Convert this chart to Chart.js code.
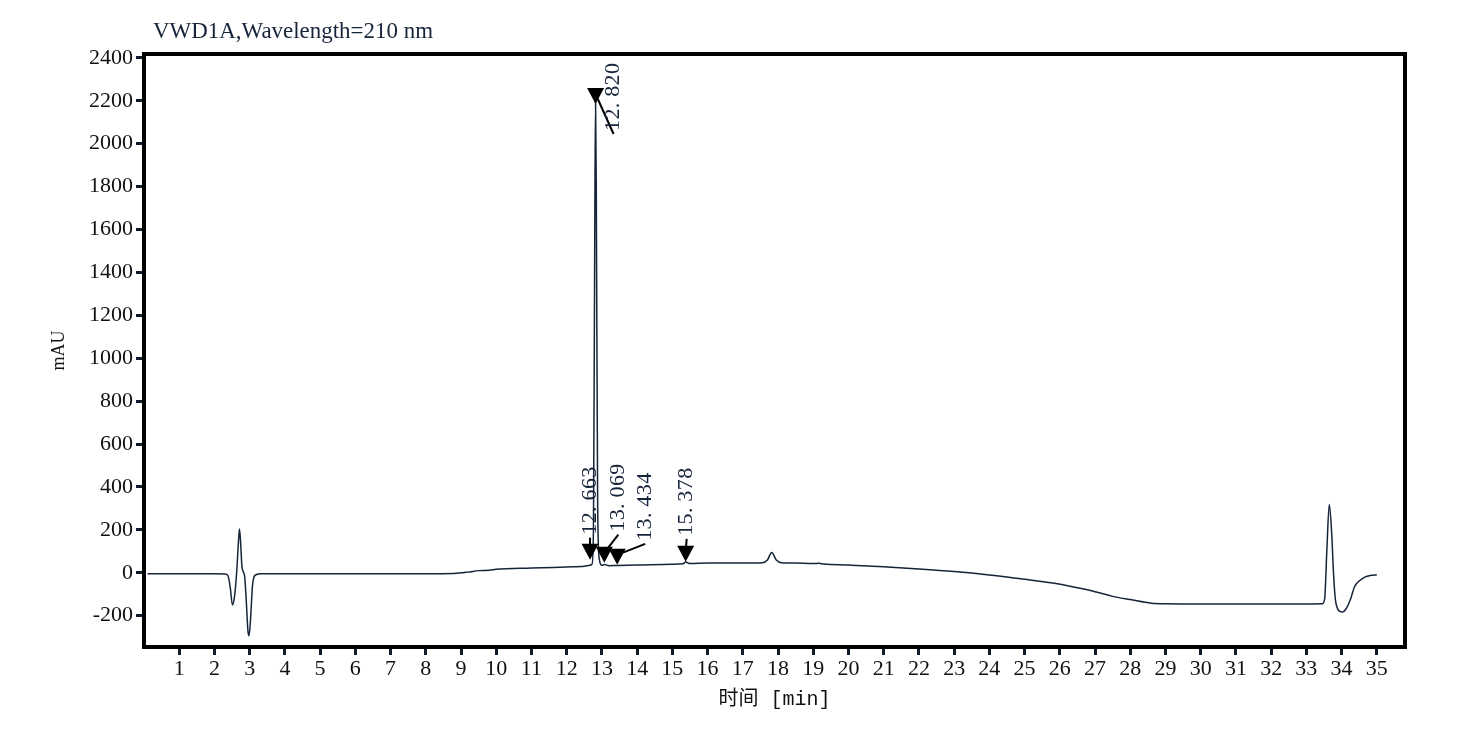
<!DOCTYPE html>
<html>
<head>
<meta charset="utf-8">
<title>VWD1A chromatogram</title>
<script src="https://cdn.jsdelivr.net/npm/chart.js@4.4.1/dist/chart.umd.min.js"></script>
<style>
  html, body { margin: 0; padding: 0; background: #fff; }
  #wrap { width: 1482px; height: 735px; }
</style>
</head>
<body>
<div id="wrap"><canvas id="chrom" width="1482" height="735"></canvas></div>
<script>
// signal trace (time in min, signal in mAU)
const times = [0.1, 1, 2, 2.3, 2.38, 2.45, 2.51, 2.57, 2.63, 2.68, 2.71, 2.74, 2.78, 2.82, 2.86,
  2.91, 2.95, 2.98, 3.02, 3.08, 3.15, 3.3, 4, 5, 6, 7, 8, 8.8, 9.2, 9.5, 9.8, 10, 11, 12, 12.5,
  12.66, 12.72, 12.76, 12.8, 12.82, 12.84, 12.88, 12.93, 13.0, 13.07, 13.2, 13.43, 14, 15, 15.3,
  15.38, 15.5, 16, 17, 17.55, 17.7, 17.82, 17.95, 18.1, 18.5, 19, 19.16, 19.3, 20, 21, 22, 23, 24,
  25, 25.8, 26.5, 27, 27.5, 28, 28.6, 29, 30, 31, 32, 33, 33.45, 33.52, 33.58, 33.65, 33.72, 33.77,
  33.82, 33.88, 33.95, 34.03, 34.12, 34.25, 34.37, 34.5, 34.66, 34.85, 35.0];
const mAU = [-5, -5, -5, -6, -12, -70, -150, -110, 0, 140, 204, 150, 30, 5, -20,
  -150, -270, -294, -230, -60, -12, -4, -5, -5, -5, -4, -4, -3, 3, 10, 12, 16, 22, 27, 30,
  35, 40, 200, 1700, 2195, 1800, 300, 60, 35, 38, 33, 34, 36, 40, 42,
  50, 43, 45, 45, 47, 60, 95, 60, 47, 45, 43, 44, 41, 36, 28, 18, 6, -10,
  -30, -48, -70, -88, -110, -125, -142, -144, -145, -145, -145, -145, -144, -120, 100, 318, 180, 0,
  -120, -165, -180, -183, -170, -125, -64, -38, -20, -12, -9];

// integrated peaks: retention time and level of the marker tip (mAU)
const peakTimes = [12.663, 12.820, 13.069, 13.434, 15.378];
const markerLevel = [61, 2185, 47, 37, 51];

// axis ticks
const xTicks = [];
for (let i = 1; i <= 35; i++) xTicks.push(i);
const yTicks = [-200, 0, 200, 400, 600, 800, 1000, 1200, 1400, 1600, 1800, 2000, 2200, 2400];

const TEXT = '#111';
const NAVY = '#16243a';
const SERIF = '"Liberation Serif", "Times New Roman", serif';

// label placement relative to triangle (dx, dy of label foot from triangle top)
const labelShift = [[0, -9], [18, 43], [14, -15], [28, -8], [1, -10]];

// draw text char by char in fixed cells (instrument printout style)
function cellText(ctx, str, cell) {
    for (let k = 0; k < str.length; k++) {
        ctx.fillText(str[k], k * cell, 0);
    }
}

const peakPlugin = {
    id: 'peakMarks',
    afterDatasetsDraw(chart) {
        const { ctx, chartArea: a, scales: { x, y } } = chart;
        ctx.save();
        // frame round the plot
        ctx.strokeStyle = '#000';
        ctx.lineWidth = 4;
        ctx.strokeRect(a.left, a.top, a.right - a.left, a.bottom - a.top);

        // header, squeezed to the printed width
        ctx.save();
        const head = 'VWD1A,Wavelength=210 nm';
        ctx.fillStyle = NAVY;
        ctx.font = '21px ' + SERIF;
        ctx.textAlign = 'left';
        ctx.textBaseline = 'middle';
        const w = ctx.measureText(head).width;
        ctx.translate(153, 32);
        ctx.scale(280 / w, 1.05);
        ctx.fillText(head, 0, 0);
        ctx.restore();

        // peak markers and labels
        ctx.font = '22px ' + SERIF;
        peakTimes.forEach((t, i) => {
            const px = x.getPixelForValue(t);
            const tip = y.getPixelForValue(markerLevel[i]);
            const top = tip - 16;
            ctx.fillStyle = '#000';
            ctx.beginPath();
            ctx.moveTo(px - 8.5, top);
            ctx.lineTo(px + 8.5, top);
            ctx.lineTo(px, tip);
            ctx.closePath();
            ctx.fill();

            const lx = px + labelShift[i][0];
            const ly = top + labelShift[i][1];
            ctx.strokeStyle = '#000';
            ctx.lineWidth = 2;
            ctx.beginPath();
            ctx.moveTo(px, top + 6);
            ctx.lineTo(lx, ly + 3);
            ctx.stroke();

            ctx.save();
            ctx.translate(lx, ly);
            ctx.rotate(-Math.PI / 2);
            ctx.fillStyle = NAVY;
            ctx.textAlign = 'left';
            ctx.textBaseline = 'middle';
            cellText(ctx, t.toFixed(3), 11.4);
            ctx.restore();
        });
        ctx.restore();
    }
};

const tickFont = { family: SERIF, size: 22 };

new Chart(document.getElementById('chrom'), {
    type: 'line',
    data: {
        datasets: [{
            data: times.map((t, i) => ({ x: t, y: mAU[i] })),
            borderColor: NAVY,
            borderWidth: 1.5,
            pointRadius: 0,
            fill: false,
            cubicInterpolationMode: 'monotone'
        }]
    },
    options: {
        responsive: false,
        animation: false,
        layout: { padding: { left: 0, top: 54, right: 77, bottom: 0 } },
        plugins: { legend: { display: false }, tooltip: { enabled: false } },
        scales: {
            x: {
                type: 'linear',
                min: 0,
                max: 35.8,
                afterBuildTicks: s => { s.ticks = xTicks.map(v => ({ value: v })); },
                afterFit: s => { s.height = 88; },
                ticks: { autoSkip: false, maxRotation: 0, color: TEXT, font: tickFont, padding: 1,
                    callback: v => String(v) },
                grid: { drawOnChartArea: false, drawTicks: true, tickLength: 8, tickWidth: 3, tickColor: '#0f1c2e' },
                border: { display: false },
                title: {
                    display: true,
                    text: '时间 [min]',
                    color: TEXT,
                    font: { family: '"Liberation Mono", "Noto Sans CJK SC", monospace', size: 20 },
                    padding: { top: 23, bottom: 23 }
                }
            },
            y: {
                min: -346,
                max: 2418,
                afterBuildTicks: s => { s.ticks = yTicks.map(v => ({ value: v })); },
                afterFit: s => { s.width = 144; },
                ticks: { color: TEXT, font: tickFont, padding: 3, callback: v => String(v) },
                grid: { drawOnChartArea: false, drawTicks: true, tickLength: 8, tickWidth: 3, tickColor: '#0f1c2e' },
                border: { display: false },
                title: {
                    display: true,
                    text: 'mAU',
                    color: TEXT,
                    font: { family: SERIF, size: 18 },
                    padding: { top: 48, bottom: 48 }
                }
            }
        }
    },
    plugins: [peakPlugin]
});
</script>
</body>
</html>
